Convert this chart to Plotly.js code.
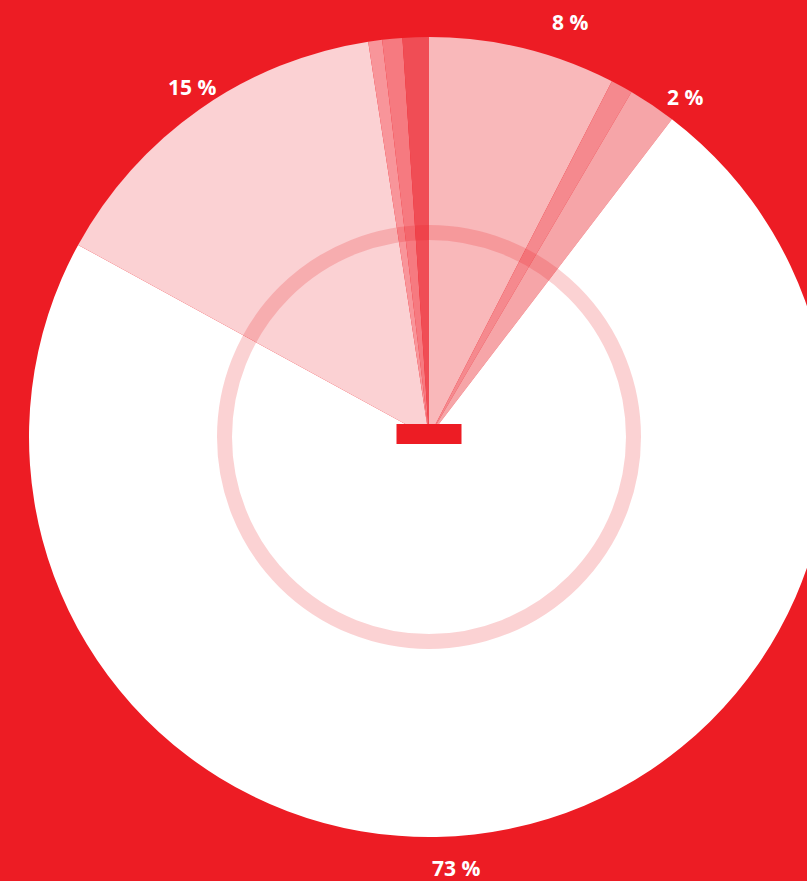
<!DOCTYPE html>
<html>
<head>
<meta charset="utf-8">
<script src="https://cdn.plot.ly/plotly-3.0.1.min.js"></script>
<style>
html,body{margin:0;padding:0;background:#ED1C24;overflow:hidden;width:807px;height:881px;}
#chart{width:858px;height:881px;}
</style>
</head>
<body>
<div id="chart"></div>
<script>
// slice values (percent), clockwise from 12 o'clock
var sliceNames = ["A", "B", "C", "W", "D", "E", "F", "G"];
var sliceValues = [7.56, 0.89, 1.94, 72.6, 14.6, 0.56, 0.81, 1.06];
var sliceColors = ["#F9B8BA", "#F5898E", "#F6A5A8", "#FFFFFF", "#FBD1D3", "#F8959A", "#F67A80", "#F04D55"];

// visible labels
var labelTexts = ["8 %", "2 %", "15 %", "73 %"];
var labelX = [570, 685, 192, 456];
var labelY = [22, 97, 87, 868];

var W = 858, H = 881;
var cx = 429, cy = 437, R = 400;

var annotations = labelTexts.map(function (t, i) {
  return {
    text: t, showarrow: false,
    xref: "paper", yref: "paper",
    x: labelX[i] / W, y: 1 - labelY[i] / H,
    xanchor: "center", yanchor: "middle",
    font: {family: "Open Sans, sans-serif", size: 21, color: "#FFFFFF", weight: 700}
  };
});

var data = [{
  type: "pie",
  labels: sliceNames,
  values: sliceValues,
  sort: false,
  direction: "clockwise",
  rotation: 0,
  textinfo: "none",
  hoverinfo: "none",
  marker: {colors: sliceColors, line: {width: 0}},
  domain: {x: [(cx - R) / W, (cx + R) / W], y: [(H - cy - R) / H, (H - cy + R) / H]},
  showlegend: false
}];

var layout = {
  width: W, height: H,
  margin: {l: 0, r: 0, t: 0, b: 0},
  paper_bgcolor: "#ED1C24",
  plot_bgcolor: "#ED1C24",
  showlegend: false,
  annotations: annotations,
  shapes: [
    {
      type: "circle", layer: "above",
      xref: "paper", yref: "paper",
      xsizemode: "pixel", ysizemode: "pixel",
      xanchor: cx / W, yanchor: 1 - cy / H,
      x0: -204.5, x1: 204.5, y0: -204.5, y1: 204.5,
      line: {color: "rgba(237,28,36,0.2)", width: 15},
      fillcolor: "rgba(0,0,0,0)"
    },
    {
      type: "rect", layer: "above",
      xref: "paper", yref: "paper",
      xsizemode: "pixel", ysizemode: "pixel",
      xanchor: cx / W, yanchor: 1 - 434 / H,
      x0: -32.5, x1: 32.5, y0: -10, y1: 10,
      line: {width: 0},
      fillcolor: "#ED1C24"
    }
  ]
};

Plotly.newPlot("chart", data, layout, {staticPlot: true, displayModeBar: false});
</script>
</body>
</html>
